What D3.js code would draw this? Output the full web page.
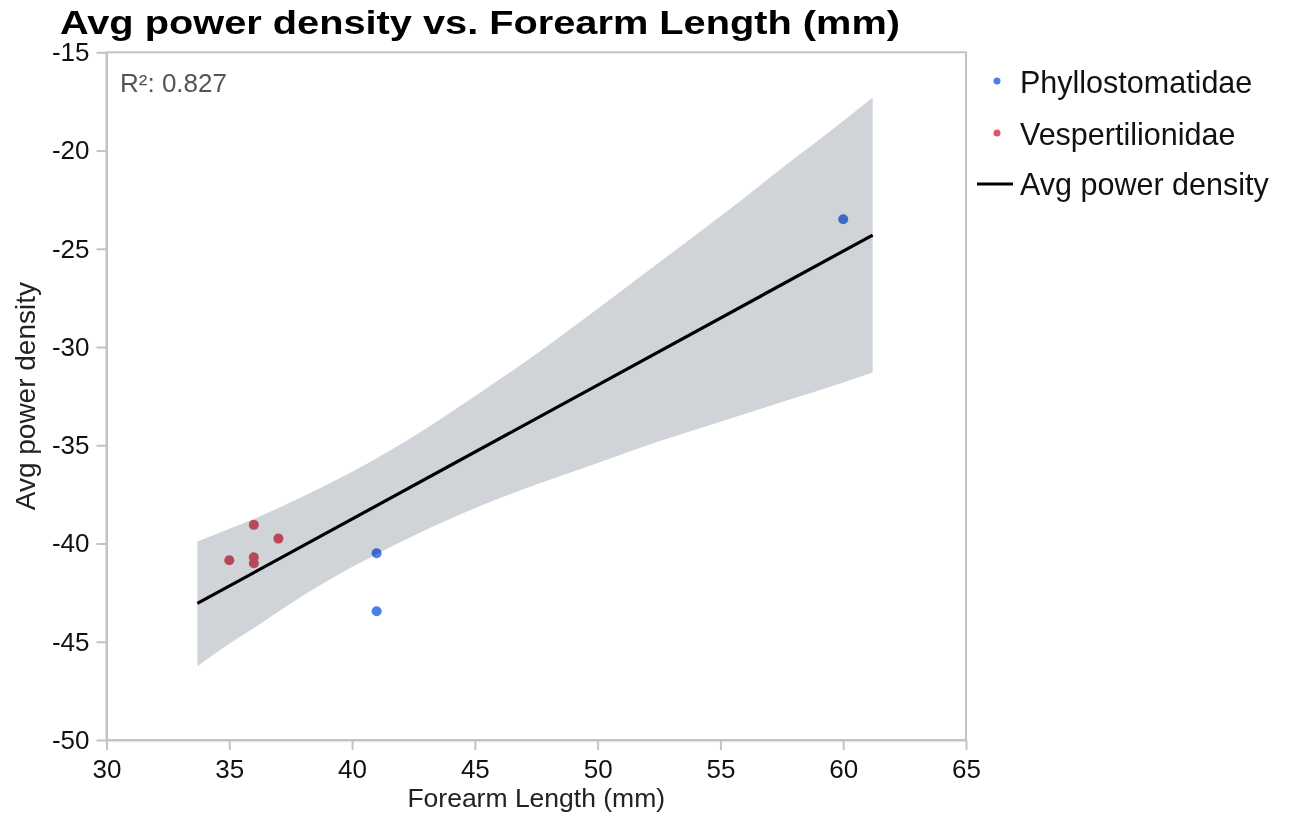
<html>
<head>
  <script src="https://d3js.org/d3.v7.min.js"></script>
  <style>
    body { margin: 0; background: #fff; }
    text { font-family: "Liberation Sans", Arial, sans-serif; }
    .axis path, .axis line { stroke: #c3c3c3; stroke-width: 2px; }
    .axis text { font-size: 26px; fill: #111; }
  </style>
</head>
<body>
<svg id="chart" width="1291" height="818"></svg>
<script>
// points
const phylloX = [60, 41, 41];
const phylloY = [-23.5, -40.5, -43.45];
const vespX = [36, 37, 35, 36, 36];
const vespY = [-39.05, -39.75, -40.85, -40.7, -41.0];

// fitted line and its confidence band
const fitX = [33.7, 61.2];
const fitY = [-43.05, -24.3];
const bandX = [33.7, 35, 36, 37.5, 40, 42.5, 45, 47.5, 50, 52.5, 55, 57.5, 60, 61.2];
const bandLow = [-46.25, -45.1, -44.3, -43.05, -41.2, -39.6, -38.2, -37.0, -35.9, -34.8, -33.8, -32.8, -31.8, -31.3];
const bandHigh = [-39.9, -39.25, -38.75, -37.9, -36.35, -34.55, -32.5, -30.35, -28.05, -25.7, -23.35, -20.9, -18.5, -17.3];

const xTicks = [30, 35, 40, 45, 50, 55, 60, 65];
const yTicks = [-50, -45, -40, -35, -30, -25, -20, -15];
const legendNames = ["Phyllostomatidae", "Vespertilionidae", "Avg power density"];

const blue = "#4a7ee8";
const red = "#e05767";

const svg = d3.select("#chart");
const margin = {top: 52.3, left: 106.5, right: 966, bottom: 740};

const x = d3.scaleLinear().domain([30, 65]).range([margin.left, margin.right]);
const y = d3.scaleLinear().domain([-50, -15]).range([margin.bottom, margin.top]);

// title
svg.append("text")
    .attr("x", 60).attr("y", 34)
    .attr("font-size", 34).attr("font-weight", "bold")
    .attr("textLength", 840).attr("lengthAdjust", "spacingAndGlyphs")
    .attr("fill", "#000")
    .text("Avg power density vs. Forearm Length (mm)");

// points first, band multiplies over them
let plot = svg.append("g");
phylloX.forEach((d, i) => {
    plot.append("circle").attr("cx", x(d)).attr("cy", y(phylloY[i])).attr("r", 5).attr("fill", blue);
});
vespX.forEach((d, i) => {
    plot.append("circle").attr("cx", x(d)).attr("cy", y(vespY[i])).attr("r", 5).attr("fill", red);
});

let band = d3.area()
    .x((d, i) => x(d))
    .y0((d, i) => y(bandLow[i]))
    .y1((d, i) => y(bandHigh[i]))
    .curve(d3.curveMonotoneX);
plot.append("path")
    .attr("d", band(bandX))
    .attr("fill", "#d0d3d8")
    .style("mix-blend-mode", "multiply");

plot.append("line")
    .attr("x1", x(fitX[0])).attr("y1", y(fitY[0]))
    .attr("x2", x(fitX[1])).attr("y2", y(fitY[1]))
    .attr("stroke", "#000").attr("stroke-width", 3.2);

// frame
svg.append("rect")
    .attr("x", margin.left).attr("y", margin.top)
    .attr("width", margin.right - margin.left).attr("height", margin.bottom - margin.top)
    .attr("fill", "none").attr("stroke", "#c3c3c3").attr("stroke-width", 2);

svg.append("g").attr("class", "axis")
    .attr("transform", `translate(0,${margin.bottom})`)
    .call(d3.axisBottom(x).tickValues(xTicks).tickSize(10).tickPadding(10).tickSizeOuter(0).tickFormat(d => String(d)));
svg.append("g").attr("class", "axis")
    .attr("transform", `translate(${margin.left},0)`)
    .call(d3.axisLeft(y).tickValues(yTicks).tickSize(10).tickPadding(7).tickSizeOuter(0).tickFormat(d => String(d)));

// R2 note
svg.append("text")
    .attr("x", 120).attr("y", 92)
    .attr("font-size", 26).attr("fill", "#555")
    .text("R²: 0.827");

// axis labels
svg.append("text")
    .attr("x", (margin.left + margin.right) / 2).attr("y", 807)
    .attr("text-anchor", "middle").attr("font-size", 26.5).attr("fill", "#222")
    .text("Forearm Length (mm)");
svg.append("text")
    .attr("transform", `translate(35,${(margin.top + margin.bottom) / 2}) rotate(-90)`)
    .attr("text-anchor", "middle").attr("font-size", 28).attr("fill", "#222")
    .text("Avg power density");

// legend
let legend = svg.append("g");
let legendY = [93, 145, 195];
legend.append("circle").attr("cx", 997).attr("cy", legendY[0] - 12).attr("r", 3.5).attr("fill", blue);
legend.append("circle").attr("cx", 997).attr("cy", legendY[1] - 12).attr("r", 3.5).attr("fill", red);
legend.append("line").attr("x1", 977).attr("x2", 1013).attr("y1", legendY[2] - 11).attr("y2", legendY[2] - 11)
    .attr("stroke", "#000").attr("stroke-width", 3);
legendNames.forEach((name, i) => {
    legend.append("text").attr("x", 1020).attr("y", legendY[i])
        .attr("font-size", 30.5).attr("fill", "#111").text(name);
});
</script>
</body>
</html>
